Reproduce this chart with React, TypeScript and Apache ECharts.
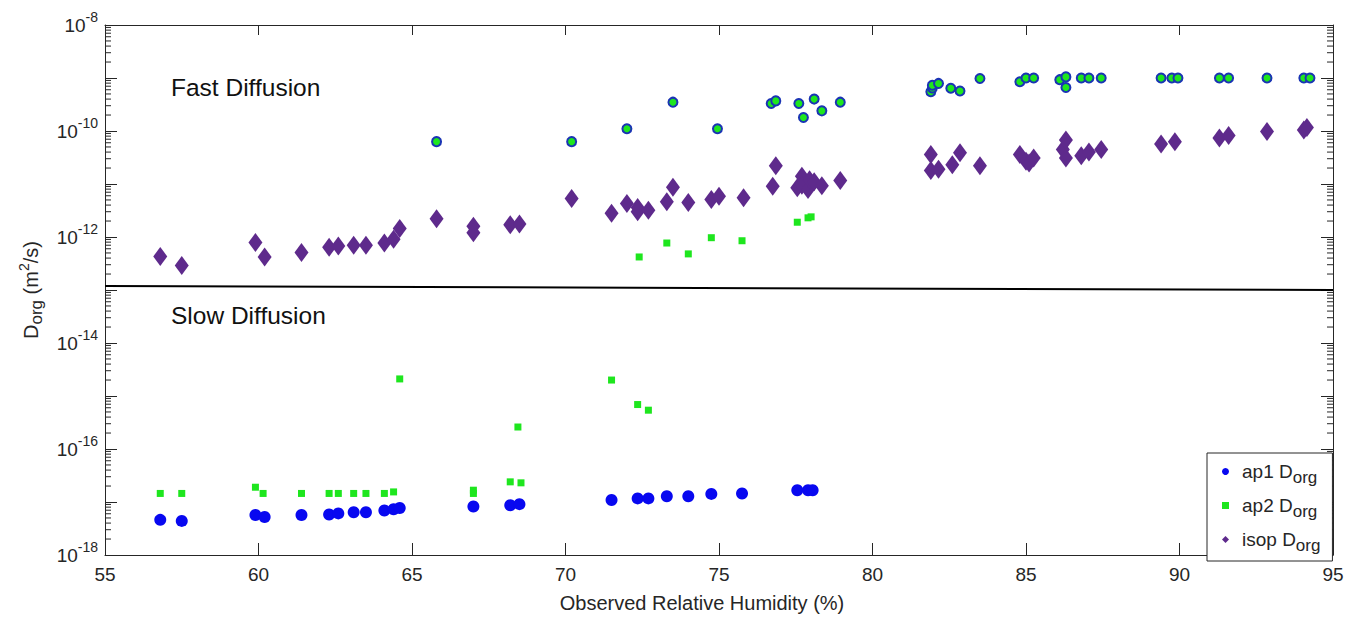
import React, { useEffect, useRef } from 'react';
import * as echarts from 'echarts';

// ---------- data ----------
const isopRH = [56.8, 57.5, 59.9, 60.2, 61.4, 62.3, 62.6, 63.1, 63.5, 64.1, 64.4, 64.6, 65.8, 67.0, 67.0, 68.2, 68.5, 70.2, 71.5, 72.0, 72.35, 72.35, 72.7, 73.3, 73.5, 74.0, 74.75, 75.0, 75.8, 76.75, 76.85, 77.55, 77.7, 77.7, 77.9, 77.95, 78.1, 78.35, 78.95, 81.9, 81.9, 82.15, 82.6, 82.85, 83.5, 84.8, 85.0, 85.1, 85.25, 86.2, 86.3, 86.3, 86.8, 87.05, 87.45, 89.4, 89.85, 91.3, 91.6, 92.85, 94.05, 94.15];
const isopD = [4.3e-13, 2.9e-13, 7.9e-13, 4.2e-13, 5.1e-13, 6.4e-13, 6.8e-13, 7.0e-13, 7.0e-13, 7.7e-13, 9.1e-13, 1.45e-12, 2.2e-12, 1.6e-12, 1.2e-12, 1.7e-12, 1.75e-12, 5.3e-12, 2.8e-12, 4.3e-12, 3.6e-12, 3.0e-12, 3.2e-12, 4.6e-12, 8.7e-12, 4.5e-12, 5.1e-12, 5.9e-12, 5.5e-12, 9.1e-12, 2.2e-11, 8.5e-12, 1.4e-11, 9.5e-12, 7.9e-12, 1.2e-11, 1.1e-11, 9.3e-12, 1.17e-11, 3.6e-11, 1.8e-11, 1.9e-11, 2.3e-11, 3.9e-11, 2.2e-11, 3.6e-11, 2.7e-11, 2.5e-11, 3.1e-11, 4.5e-11, 6.8e-11, 3.1e-11, 3.4e-11, 4.0e-11, 4.5e-11, 5.7e-11, 6.3e-11, 7.4e-11, 8.2e-11, 9.8e-11, 1.05e-10, 1.16e-10];

const ap1RH = [56.8, 57.5, 59.9, 60.2, 61.4, 62.3, 62.6, 63.1, 63.5, 64.1, 64.4, 64.6, 67.0, 68.2, 68.5, 71.5, 72.35, 72.7, 73.3, 74.0, 74.75, 75.75, 77.55, 77.9, 78.05];
const ap1D = [4.6e-18, 4.4e-18, 5.7e-18, 5.2e-18, 5.7e-18, 5.8e-18, 6.1e-18, 6.4e-18, 6.4e-18, 6.9e-18, 7.3e-18, 7.7e-18, 8.2e-18, 8.7e-18, 9.1e-18, 1.09e-17, 1.17e-17, 1.17e-17, 1.28e-17, 1.28e-17, 1.42e-17, 1.45e-17, 1.67e-17, 1.67e-17, 1.67e-17];

const ap2RH = [56.8, 57.5, 59.9, 60.15, 61.4, 62.3, 62.6, 63.1, 63.5, 64.1, 64.4, 64.6, 67.0, 67.0, 68.2, 68.55, 68.45, 71.5, 72.35, 72.7, 72.4, 73.3, 74.0, 74.75, 75.75, 77.55, 77.9, 78.0];
const ap2D = [1.45e-17, 1.45e-17, 1.9e-17, 1.45e-17, 1.45e-17, 1.45e-17, 1.45e-17, 1.45e-17, 1.45e-17, 1.45e-17, 1.55e-17, 2.1e-15, 1.67e-17, 1.45e-17, 2.4e-17, 2.3e-17, 2.6e-16, 2.0e-15, 6.9e-16, 5.4e-16, 4.2e-13, 7.7e-13, 4.8e-13, 9.7e-13, 8.5e-13, 1.9e-12, 2.3e-12, 2.4e-12];

const fastRH = [65.8, 70.2, 72.0, 73.5, 74.95, 76.7, 76.85, 77.6, 77.75, 78.1, 78.35, 78.95, 81.9, 81.95, 81.95, 82.15, 82.55, 82.85, 83.5, 84.8, 85.0, 85.25, 86.1, 86.3, 86.3, 86.8, 87.05, 87.45, 89.4, 89.75, 89.95, 91.3, 91.6, 92.85, 94.05, 94.25];
const fastD = [6.3e-11, 6.3e-11, 1.1e-10, 3.5e-10, 1.1e-10, 3.3e-10, 3.7e-10, 3.3e-10, 1.8e-10, 4.0e-10, 2.4e-10, 3.5e-10, 5.5e-10, 6.5e-10, 7.3e-10, 7.9e-10, 6.4e-10, 5.7e-10, 9.8e-10, 8.5e-10, 1.0e-9, 1.0e-9, 9.3e-10, 1.05e-9, 6.6e-10, 1.0e-9, 1.0e-9, 1.0e-9, 1.0e-9, 1.0e-9, 1.0e-9, 1.0e-9, 1.0e-9, 1.0e-9, 1.0e-9, 1.0e-9];

const dividerRH = [55, 95];
const dividerD = [1.19e-13, 1.0e-13];

const xMin = 55;
const xMax = 95;
const xStep = 5;
const yMinExp = -18;
const yMaxExp = -8;
const minorMultipliers = [2, 3, 4, 5, 6, 7, 8, 9];

const legendNames = ['ap1', 'ap2', 'isop'];

// ---------- helpers ----------
const pairs = (xs: number[], ys: number[]) => xs.map((x, i) => [x, ys[i]]);

const minorTickValues: number[] = [];
for (let e = yMinExp; e < yMaxExp; e++) {
  for (const m of minorMultipliers) minorTickValues.push(m * Math.pow(10, e));
}

const FONT = '"Liberation Sans", Arial, Helvetica, sans-serif';
const AXIS = '#262626';

export default function App() {
  const ref = useRef<HTMLDivElement>(null);

  useEffect(() => {
    const chart = echarts.init(ref.current!, null, { renderer: 'svg' });

    const yLabelFormatter = (v: number) => {
      const e = Math.round(Math.log10(v));
      if (e % 2 !== 0) return '';
      return `{b|10}{s|${e}}`;
    };

    const option: any = {
      animation: false,
      backgroundColor: '#ffffff',
      textStyle: { fontFamily: FONT },
      grid: { left: 105, right: 14, top: 25, bottom: 60, containLabel: false },
      xAxis: [
        {
          type: 'value',
          min: xMin,
          max: xMax,
          interval: xStep,
          position: 'bottom',
          axisLine: { show: true, lineStyle: { color: AXIS, width: 1 } },
          axisTick: { show: true, inside: true, length: 12, lineStyle: { color: AXIS } },
          axisLabel: { fontSize: 19, color: AXIS, margin: 10, fontFamily: FONT },
          splitLine: { show: false },
          name: 'Observed Relative Humidity (%)',
          nameLocation: 'middle',
          nameGap: 38,
          nameTextStyle: { fontSize: 20, color: AXIS, fontFamily: FONT, padding: [0, 34, 0, 0] },
        },
        {
          type: 'value',
          min: xMin,
          max: xMax,
          interval: xStep,
          position: 'top',
          axisLine: { show: true, lineStyle: { color: AXIS, width: 1 } },
          axisTick: { show: true, inside: true, length: 10, lineStyle: { color: AXIS } },
          axisLabel: { show: false },
          splitLine: { show: false },
        },
      ],
      yAxis: [
        {
          type: 'log',
          logBase: 10,
          min: Math.pow(10, yMinExp),
          max: Math.pow(10, yMaxExp),
          interval: 1,
          position: 'left',
          axisLine: { show: true, lineStyle: { color: AXIS, width: 1 } },
          axisTick: { show: true, inside: true, length: 12, lineStyle: { color: AXIS } },
          axisLabel: {
            show: true,
            margin: 7,
            formatter: yLabelFormatter,
            rich: {
              b: { fontSize: 19, color: AXIS, fontFamily: FONT },
              s: { fontSize: 14, color: AXIS, fontFamily: FONT, padding: [0, 0, 16, 0] },
            },
          },
          splitLine: { show: false },
          name: 'D{sub|org} (m{sup|2}/s)',
          nameLocation: 'middle',
          nameRotate: 90,
          nameGap: 60,
          nameTextStyle: {
            fontSize: 20,
            color: AXIS,
            fontFamily: FONT,
            rich: {
              sub: { fontSize: 17, color: AXIS, fontFamily: FONT, padding: [12, 0, 0, 0] },
              sup: { fontSize: 14, color: AXIS, fontFamily: FONT, padding: [0, 0, 14, 0] },
            },
          },
        },
        {
          type: 'log',
          logBase: 10,
          min: Math.pow(10, yMinExp),
          max: Math.pow(10, yMaxExp),
          interval: 1,
          position: 'right',
          axisLine: { show: true, lineStyle: { color: AXIS, width: 1 } },
          axisTick: { show: true, inside: true, length: 12, lineStyle: { color: AXIS } },
          axisLabel: { show: false },
          splitLine: { show: false },
        },
      ],
      legend: {
        data: legendNames,
        orient: 'vertical',
        left: 1207,
        top: 453,
        padding: [9, 12, 7, 15],
        itemGap: 10,
        itemWidth: 7,
        itemHeight: 7,
        borderColor: AXIS,
        borderWidth: 1,
        backgroundColor: '#ffffff',
        selectedMode: false,
        formatter: (name: string) => `{gap|}${name} D{sub|org}`,
        textStyle: {
          fontSize: 19,
          color: AXIS,
          fontFamily: FONT,
          rich: {
            gap: { width: 8 },
            sub: { fontSize: 17, color: AXIS, fontFamily: FONT, padding: [12, 0, 0, 0] },
          },
        },
      },
      graphic: [
        {
          type: 'text',
          left: 171,
          top: 75,
          style: { text: 'Fast Diffusion', fontSize: 24.5, fill: '#111', fontFamily: FONT },
        },
        {
          type: 'text',
          left: 171,
          top: 303,
          style: { text: 'Slow Diffusion', fontSize: 24.5, fill: '#111', fontFamily: FONT },
        },
      ],
      series: [
        {
          type: 'custom',
          name: 'minorTicks',
          silent: true,
          xAxisIndex: 0,
          yAxisIndex: 0,
          data: minorTickValues.map((v) => [xMin, v]),
          renderItem: (params: any, api: any) => {
            const v = api.value(1);
            const pL = api.coord([xMin, v]);
            const pR = api.coord([xMax, v]);
            return {
              type: 'group',
              children: [
                { type: 'line', shape: { x1: pL[0], y1: pL[1], x2: pL[0] + 6, y2: pL[1] }, style: { stroke: AXIS, lineWidth: 1 } },
                { type: 'line', shape: { x1: pR[0], y1: pR[1], x2: pR[0] - 6, y2: pR[1] }, style: { stroke: AXIS, lineWidth: 1 } },
              ],
            };
          },
          z: 1,
        },
        {
          type: 'custom',
          name: 'divider',
          silent: true,
          clip: false,
          data: [[dividerRH[0], dividerD[0], dividerRH[1], dividerD[1]]],
          renderItem: (params: any, api: any) => {
            const p0 = api.coord([api.value(0), api.value(1)]);
            const p1 = api.coord([api.value(2), api.value(3)]);
            return {
              type: 'line',
              shape: { x1: p0[0], y1: p0[1], x2: p1[0], y2: p1[1] },
              style: { stroke: '#000000', lineWidth: 2 },
            };
          },
          z: 2,
        },
        {
          type: 'scatter',
          name: 'ap2',
          data: pairs(ap2RH, ap2D),
          symbol: 'rect',
          symbolSize: 7,
          itemStyle: { color: '#1ee61e', opacity: 1 },
          z: 3,
        },
        {
          type: 'scatter',
          name: 'ap1',
          data: pairs(ap1RH, ap1D),
          symbol: 'circle',
          symbolSize: 12,
          itemStyle: { color: '#0808f0', opacity: 1 },
          z: 3,
        },
        {
          type: 'scatter',
          name: 'isop',
          data: pairs(isopRH, isopD),
          symbol: 'diamond',
          symbolSize: [14, 19],
          itemStyle: { color: '#5e2a8c', opacity: 1 },
          z: 3,
        },
        {
          type: 'scatter',
          name: 'apFast',
          data: pairs(fastRH, fastD),
          symbol: 'circle',
          symbolSize: 9,
          itemStyle: { color: '#1ee61e', borderColor: '#1a34b4', borderWidth: 2, opacity: 1 },
          z: 4,
        },
      ],
    };

    chart.setOption(option);
    return () => chart.dispose();
  }, []);

  return (
    <div
      ref={ref}
      style={{ position: 'fixed', left: 0, top: 0, width: 1347, height: 618, background: '#ffffff' }}
    />
  );
}
